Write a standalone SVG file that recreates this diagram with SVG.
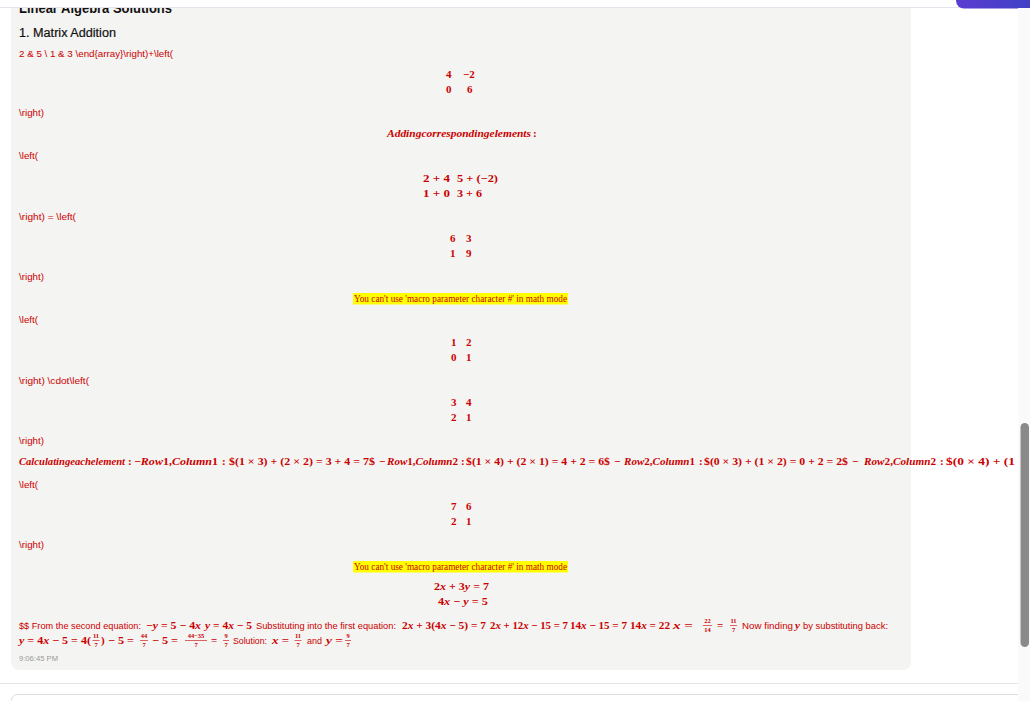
<svg xmlns="http://www.w3.org/2000/svg" width="1030" height="701" viewBox="0 0 1030 701">
<defs>
<style>
.sans{font-family:"Liberation Sans","DejaVu Sans",sans-serif}
.raw{font-family:"Liberation Sans","DejaVu Sans",sans-serif;font-size:9.3px;fill:#cc0000}
.m{font-family:"Liberation Serif","DejaVu Serif",serif;font-size:11px;font-weight:bold;fill:#cc0000}
.i{font-style:italic}
.fr{font-family:"Liberation Serif","DejaVu Serif",serif;font-size:6.5px;font-weight:bold;fill:#cc0000;text-anchor:middle}
.bar{stroke:#cc0000;stroke-width:0.6}
.err{font-family:"Liberation Serif","DejaVu Serif",serif;font-size:9.5px;fill:#cc0000}
.errbg{fill:#ffff00}
</style>
<linearGradient id="pill" x1="0" y1="0" x2="1" y2="0">
<stop offset="0" stop-color="#5b3cd2"/>
<stop offset="1" stop-color="#3a42c2"/>
</linearGradient>
</defs>
<rect width="1030" height="701" fill="#ffffff"/>
<g id="panel">
<rect x="11" y="-20" width="900" height="690" rx="8" fill="#f4f4f2"/>
</g>
<g id="header-texts">
<text class="sans" x="19" y="13" font-size="15" font-weight="bold" fill="#111" textLength="153" lengthAdjust="spacingAndGlyphs">Linear Algebra Solutions</text>
<text class="sans" x="19" y="37" font-size="12.5" fill="#111" stroke="#111" stroke-width="0.2" textLength="97" lengthAdjust="spacingAndGlyphs">1. Matrix Addition</text>
</g>
<g id="raw-lines">
<text class="raw" x="19" y="57" textLength="154" lengthAdjust="spacingAndGlyphs">2 &amp; 5 \ 1 &amp; 3 \end{array}\right)+\left(</text>
<text class="raw" x="19" y="116" textLength="25" lengthAdjust="spacingAndGlyphs">\right)</text>
<text class="raw" x="19" y="159" textLength="19" lengthAdjust="spacingAndGlyphs">\left(</text>
<text class="raw" x="19" y="220" textLength="57" lengthAdjust="spacingAndGlyphs">\right) = \left(</text>
<text class="raw" x="19" y="280" textLength="25" lengthAdjust="spacingAndGlyphs">\right)</text>
<text class="raw" x="19" y="323" textLength="19" lengthAdjust="spacingAndGlyphs">\left(</text>
<text class="raw" x="19" y="384" textLength="70" lengthAdjust="spacingAndGlyphs">\right) \cdot\left(</text>
<text class="raw" x="19" y="444" textLength="25" lengthAdjust="spacingAndGlyphs">\right)</text>
<text class="raw" x="19" y="488" textLength="19" lengthAdjust="spacingAndGlyphs">\left(</text>
<text class="raw" x="19" y="548" textLength="25" lengthAdjust="spacingAndGlyphs">\right)</text>
</g>
<g id="matrix-1">
<text class="m" x="446" y="78">4</text><text class="m" x="463" y="78">−2</text>
<text class="m" x="446" y="93">0</text><text class="m" x="467" y="93">6</text>
</g>
<g id="adding-label">
<text class="m i" x="387" y="137" textLength="144" lengthAdjust="spacingAndGlyphs">Addingcorrespondingelements</text>
<text class="m" x="533" y="137">:</text>
</g>
<g id="matrix-sum">
<text class="m" x="423" y="182" textLength="27" lengthAdjust="spacingAndGlyphs">2 + 4</text>
<text class="m" x="457" y="182" textLength="41" lengthAdjust="spacingAndGlyphs">5 + (−2)</text>
<text class="m" x="423" y="197" textLength="27" lengthAdjust="spacingAndGlyphs">1 + 0</text>
<text class="m" x="457" y="197" textLength="25" lengthAdjust="spacingAndGlyphs">3 + 6</text>
</g>
<g id="matrix-result-1">
<text class="m" x="450" y="242">6</text><text class="m" x="466" y="242">3</text>
<text class="m" x="450" y="257">1</text><text class="m" x="466" y="257">9</text>
</g>
<g id="error-1">
<rect class="errbg" x="353" y="293" width="215" height="11.5"/>
<text class="err" x="354" y="302" textLength="213" lengthAdjust="spacingAndGlyphs">You can't use 'macro parameter character #' in math mode</text>
</g>
<g id="matrix-a">
<text class="m" x="451" y="346">1</text><text class="m" x="466" y="346">2</text>
<text class="m" x="451" y="361">0</text><text class="m" x="466" y="361">1</text>
</g>
<g id="matrix-b">
<text class="m" x="451" y="406">3</text><text class="m" x="466" y="406">4</text>
<text class="m" x="451" y="421">2</text><text class="m" x="466" y="421">1</text>
</g>
<g id="calc-line">
<text class="m i" x="19" y="465" textLength="106" lengthAdjust="spacingAndGlyphs">Calculatingeachelement</text>
<text class="m" x="128" y="465">:</text>
<text class="m" x="134" y="465" textLength="84" lengthAdjust="spacingAndGlyphs">−<tspan class="i">Row</tspan>1,<tspan class="i">Column</tspan>1</text>
<text class="m" x="222" y="465">:</text>
<text class="m" x="229" y="465" textLength="146" lengthAdjust="spacingAndGlyphs">$(1 × 3) + (2 × 2) = 3 + 4 = 7$</text>
<text class="m" x="379" y="465">−</text>
<text class="m" x="387" y="465" textLength="71" lengthAdjust="spacingAndGlyphs"><tspan class="i">Row</tspan>1,<tspan class="i">Column</tspan>2</text>
<text class="m" x="461" y="465">:</text>
<text class="m" x="466" y="465" textLength="144" lengthAdjust="spacingAndGlyphs">$(1 × 4) + (2 × 1) = 4 + 2 = 6$</text>
<text class="m" x="614" y="465">−</text>
<text class="m" x="624" y="465" textLength="71" lengthAdjust="spacingAndGlyphs"><tspan class="i">Row</tspan>2,<tspan class="i">Column</tspan>1</text>
<text class="m" x="699" y="465">:</text>
<text class="m" x="704" y="465" textLength="144" lengthAdjust="spacingAndGlyphs">$(0 × 3) + (1 × 2) = 0 + 2 = 2$</text>
<text class="m" x="852" y="465">−</text>
<text class="m" x="864" y="465" textLength="72" lengthAdjust="spacingAndGlyphs"><tspan class="i">Row</tspan>2,<tspan class="i">Column</tspan>2</text>
<text class="m" x="940" y="465">:</text>
<text class="m" x="946" y="465" textLength="80" lengthAdjust="spacingAndGlyphs">$(0 × 4) + (1 ×</text>
</g>
<g id="matrix-result-2">
<text class="m" x="451" y="510">7</text><text class="m" x="466" y="510">6</text>
<text class="m" x="451" y="525">2</text><text class="m" x="466" y="525">1</text>
</g>
<g id="error-2">
<rect class="errbg" x="353" y="561" width="215" height="11.5"/>
<text class="err" x="354" y="570" textLength="213" lengthAdjust="spacingAndGlyphs">You can't use 'macro parameter character #' in math mode</text>
</g>
<g id="system">
<text class="m" x="434" y="590" textLength="55" lengthAdjust="spacingAndGlyphs">2<tspan class="i">x</tspan> + 3<tspan class="i">y</tspan> = 7</text>
<text class="m" x="438" y="605" textLength="50" lengthAdjust="spacingAndGlyphs">4<tspan class="i">x</tspan> − <tspan class="i">y</tspan> = 5</text>
</g>
<g id="solution-line-1">
<text class="raw" x="19" y="629" textLength="122" lengthAdjust="spacingAndGlyphs">$$ From the second equation:</text>
<text class="m" x="146" y="629" textLength="55" lengthAdjust="spacingAndGlyphs">−<tspan class="i">y</tspan> = 5 − 4<tspan class="i">x</tspan></text>
<text class="m" x="205" y="629" textLength="47" lengthAdjust="spacingAndGlyphs"><tspan class="i">y</tspan> = 4<tspan class="i">x</tspan> − 5</text>
<text class="raw" x="256" y="629" textLength="140" lengthAdjust="spacingAndGlyphs">Substituting into the first equation:</text>
<text class="m" x="402" y="629" textLength="84" lengthAdjust="spacingAndGlyphs">2<tspan class="i">x</tspan> + 3(4<tspan class="i">x</tspan> − 5) = 7</text>
<text class="m" x="490" y="629" textLength="78" lengthAdjust="spacingAndGlyphs">2<tspan class="i">x</tspan> + 12<tspan class="i">x</tspan> − 15 = 7</text>
<text class="m" x="570" y="629" textLength="57" lengthAdjust="spacingAndGlyphs">14<tspan class="i">x</tspan> − 15 = 7</text>
<text class="m" x="630" y="629" textLength="40" lengthAdjust="spacingAndGlyphs">14<tspan class="i">x</tspan> = 22</text>
<text class="m" x="673" y="629" textLength="20" lengthAdjust="spacingAndGlyphs"><tspan class="i">x</tspan> =</text>
<text class="fr" x="707.5" y="623">22</text><line class="bar" x1="703" y1="625.5" x2="712" y2="625.5"/><text class="fr" x="707.5" y="632">14</text>
<text class="m" x="717" y="629">=</text>
<text class="fr" x="733.5" y="623">11</text><line class="bar" x1="730" y1="625.5" x2="737" y2="625.5"/><text class="fr" x="733.5" y="632">7</text>
<text class="raw" x="742" y="629" textLength="51" lengthAdjust="spacingAndGlyphs">Now finding</text>
<text class="m i" x="795" y="629">y</text>
<text class="raw" x="803" y="629" textLength="85" lengthAdjust="spacingAndGlyphs">by substituting back:</text>
</g>
<g id="solution-line-2">
<text class="m" x="19" y="644" textLength="72" lengthAdjust="spacingAndGlyphs"><tspan class="i">y</tspan> = 4<tspan class="i">x</tspan> − 5 = 4(</text>
<text class="fr" x="96" y="638">11</text><line class="bar" x1="92.5" y1="640.5" x2="99.5" y2="640.5"/><text class="fr" x="96" y="647">7</text>
<text class="m" x="101" y="644">)</text>
<text class="m" x="108" y="644" textLength="26" lengthAdjust="spacingAndGlyphs">− 5 =</text>
<text class="fr" x="144" y="638">44</text><line class="bar" x1="140" y1="640.5" x2="148" y2="640.5"/><text class="fr" x="144" y="647">7</text>
<text class="m" x="152" y="644" textLength="26" lengthAdjust="spacingAndGlyphs">− 5 =</text>
<text class="fr" x="196" y="638">44−35</text><line class="bar" x1="185" y1="640.5" x2="207" y2="640.5"/><text class="fr" x="196" y="647">7</text>
<text class="m" x="211" y="644">=</text>
<text class="fr" x="226" y="638">9</text><line class="bar" x1="223" y1="640.5" x2="229" y2="640.5"/><text class="fr" x="226" y="647">7</text>
<text class="raw" x="233" y="644" textLength="34" lengthAdjust="spacingAndGlyphs">Solution:</text>
<text class="m" x="272" y="644" textLength="17" lengthAdjust="spacingAndGlyphs"><tspan class="i">x</tspan> =</text>
<text class="fr" x="298" y="638">11</text><line class="bar" x1="294.5" y1="640.5" x2="301.5" y2="640.5"/><text class="fr" x="298" y="647">7</text>
<text class="raw" x="307" y="644" textLength="15" lengthAdjust="spacingAndGlyphs">and</text>
<text class="m" x="326" y="644" textLength="17" lengthAdjust="spacingAndGlyphs"><tspan class="i">y</tspan> =</text>
<text class="fr" x="348" y="638">9</text><line class="bar" x1="345" y1="640.5" x2="351" y2="640.5"/><text class="fr" x="348" y="647">7</text>
</g>
<g id="timestamp">
<text class="sans" x="19" y="661" font-size="8" fill="#999999" textLength="39" lengthAdjust="spacingAndGlyphs">9:06:45 PM</text>
</g>
<g id="top-bar">
<rect x="0" y="0" width="1030" height="7.5" fill="#ffffff"/>
<line x1="0" y1="7.5" x2="1030" y2="7.5" stroke="#e3e3ec" stroke-width="1"/>
<rect x="956" y="-20" width="90" height="28.5" rx="8" fill="url(#pill)"/>
</g>
<g id="bottom">
<line x1="0" y1="683.5" x2="1018" y2="683.5" stroke="#e4e4e4" stroke-width="1"/>
<rect x="11.5" y="694.5" width="1030" height="30" rx="6" fill="#ffffff" stroke="#dcdcdc" stroke-width="1"/>
</g>
<g id="scrollbar">
<rect x="1018" y="8" width="12" height="693" fill="#fafafa"/>
<rect x="1020.5" y="423" width="8.5" height="224" rx="4.25" fill="#8a8a8a"/>
</g>
</svg>
